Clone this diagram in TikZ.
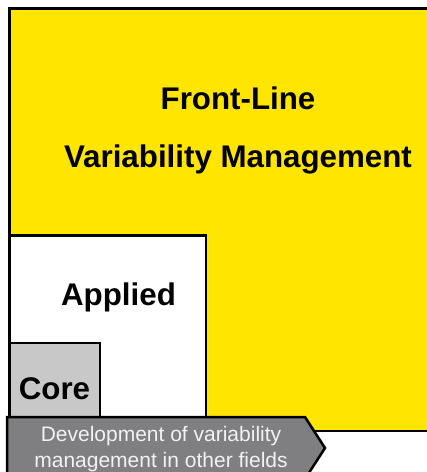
\documentclass[tikz,border=0pt]{standalone}
\usepackage{fontspec}
\setmainfont{Liberation Sans}
\usepackage{tikz}
\definecolor{frontyellow}{HTML}{FFE500}
\definecolor{coregray}{HTML}{C8C8C8}
\definecolor{arrowgray}{HTML}{7F7F82}
\definecolor{arrowtext}{HTML}{F2F2F2}
\tikzset{
  field/.style={draw=black, line width=2.5pt},
  title/.style={font=\fontsize{31.3}{37}\selectfont\bfseries, anchor=base, inner sep=0pt}
}

\begin{document}
\begin{tikzpicture}[x=1pt,y=-1pt]
                    \useasboundingbox (0,0) rectangle (427,472);
                    \clip (0,0) rectangle (427,472);
                    % nested fields
                    \draw[field, fill=frontyellow] (9.5,8.5) rectangle (445,431);
                    \draw[field, fill=white] (9.5,235.5) rectangle (206,431);
                    \draw[field, fill=coregray] (9.5,343) rectangle (100,431);
                    \node[title] (frontline) at (238,109) {Front-Line};
                    \node[title] (varmgmt) at (238,167) {Variability Management};
                    \node[title] (applied) at (118.5,305) {Applied};
                    \node[title] (core) at (54.5,399) {Core};
                    % other fields
                    \draw[field, fill=arrowgray] (7,417) -- (305,417) -- (325,448) -- (305,479) -- (7,479) -- cycle;
                    \node[font=\fontsize{21}{26}\selectfont, text=arrowtext, align=center, anchor=north, inner sep=0pt] (otherfields) at (161,426.5) {Development of variability\\management in other fields};
                \end{tikzpicture}
\end{document}
